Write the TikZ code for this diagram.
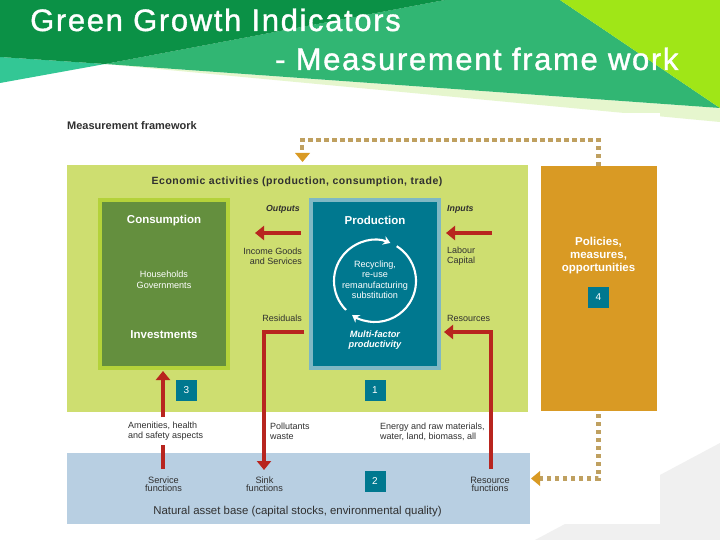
\documentclass[tikz,border=0pt]{standalone}
\usepackage{fontspec}
\setmainfont{Liberation Sans}
\usetikzlibrary{arrows.meta}
\definecolor{dkgreen}{HTML}{0B9146}
\definecolor{midgreen}{HTML}{31B673}
\definecolor{teal0}{HTML}{33C795}
\definecolor{lime0}{HTML}{A0E617}
\definecolor{palegreen}{HTML}{E6F6CE}
\definecolor{panel}{HTML}{CEDE70}
\definecolor{consf}{HTML}{648F3E}
\definecolor{consb}{HTML}{B4D23A}
\definecolor{prodf}{HTML}{00788F}
\definecolor{prodb}{HTML}{7FB8C4}
\definecolor{gold0}{HTML}{D99A24}
\definecolor{dotc}{HTML}{BFA060}
\definecolor{blue0}{HTML}{B8CFE2}
\definecolor{red0}{HTML}{B8251F}
\definecolor{gray0}{HTML}{F0F0F0}
\definecolor{ink}{HTML}{303030}
\tikzset{
 x=1pt,y=-1pt,
 lab/.style={font=\fontsize{9}{10.2}\selectfont,text=ink,inner sep=0pt},
 itlab/.style={font=\bfseries\itshape\fontsize{8.8}{9}\selectfont,text=ink,inner sep=0pt},
 tightlab/.style={font=\fontsize{9.2}{8}\selectfont,text=ink,inner sep=0pt,align=center},
 smallw/.style={font=\fontsize{9.1}{10.5}\selectfont,text=white,inner sep=0pt,align=center},
 whead/.style={font=\bfseries\fontsize{11.5}{13}\selectfont,text=white,inner sep=0pt,align=center},
 numbox/.style={fill=prodf,text=white,minimum width=21pt,minimum height=21pt,inner sep=0pt,font=\fontsize{10}{10}\selectfont},
 redarrow/.style={draw=red0,line width=4.4pt,-{Triangle[length=9pt,width=14pt]}},
 redline/.style={draw=red0,line width=4.4pt},
 dotline/.style={draw=dotc,line width=4.2pt,dash pattern=on 4.2pt off 3.8pt},
 ring/.style={draw=white,line width=2.1pt,-{Stealth[length=7pt,width=9pt]}},
 zone/.style={inner sep=0pt,anchor=north west},
 title/.style={font=\fontsize{31}{32}\selectfont\addfontfeatures{LetterSpace=5.3,FakeBold=1.2},text=white,inner sep=0pt,anchor=base west},
}
\begin{document}
\begin{tikzpicture}
\useasboundingbox (0,0) rectangle (720,540);
\fill[white] (0,0) rectangle (720,540);
% grey background shape outside the figure
\fill[gray0] (660,475) -- (720,443) -- (720,540) -- (535,540) -- (565,524) -- (660,524) -- cycle;
% header
\fill[palegreen] (105,64) -- (720,108) -- (720,122) -- cycle;
\fill[teal0] (0,57) -- (105,64) -- (0,83) -- cycle;
\fill[midgreen] (105,64) -- (445,0) -- (560,0) -- (720,108) -- cycle;
\fill[lime0] (560,0) -- (720,0) -- (720,108) -- cycle;
\fill[dkgreen] (0,0) -- (445,0) -- (105,64) -- (0,57) -- cycle;
\fill[white] (62,113) rectangle (660,160);
\node[title] (t1) at (30,31) {Green Growth Indicators};
\node[title] (t2) at (275,70) {- Measurement frame work};
\node[font=\bfseries\fontsize{11}{12}\selectfont,text=ink,inner sep=0pt,anchor=west] (mf) at (67,126) {Measurement framework};
% panels
\node[zone,fill=panel,minimum width=461pt,minimum height=247pt] (eco) at (67,164.5) {};
\node[zone,fill=gold0,minimum width=116pt,minimum height=245pt] (pol) at (541,166) {};
\node[zone,fill=blue0,minimum width=463pt,minimum height=71pt] (nat) at (67,453) {};
\node[zone,fill=consf,draw=consb,line width=3.6pt,minimum width=128.4pt,minimum height=168.4pt] (con) at (98,198) {};
\node[zone,fill=prodf,draw=prodb,line width=3.6pt,minimum width=128.4pt,minimum height=168.4pt] (pro) at (309,198) {};
% panel texts
\node[font=\bfseries\fontsize{10.5}{12}\selectfont\addfontfeatures{LetterSpace=5},text=ink,inner sep=0pt] (ecot) at (297,182) {Economic activities (production, consumption, trade)};
\node[whead] (cont) at (164,221) {Consumption};
\node[smallw] (cons) at (164,279.5) {Households\\Governments};
\node[whead] (inv) at (164,335) {Investments};
\node[whead] (prot) at (375,220.5) {Production};
\node[smallw] (rec) at (375,279.5) {Recycling,\\re-use\\remanufacturing\\substitution};
\node[font=\bfseries\itshape\fontsize{9.2}{10.5}\selectfont,text=white,inner sep=0pt,align=center] (mfp) at (375,340) {Multi-factor\\productivity};
\node[whead] (polt) at (598.5,255.5) {Policies,\\measures,\\opportunities};
\node[font=\fontsize{11.4}{12}\selectfont,text=ink,inner sep=0pt] (natt) at (297.5,512) {Natural asset base (capital stocks, environmental quality)};
% numbers
\node[numbox] (n3) at (186.5,390.5) {3};
\node[numbox] (n1) at (375,390.5) {1};
\node[numbox] (n4) at (598.5,297) {4};
\node[numbox] (n2) at (375,481.5) {2};
% flow labels
\node[itlab,anchor=east] (outl) at (300,209) {Outputs};
\node[lab,anchor=east,align=right] (igs) at (302,256) {Income Goods\\and Services};
\node[lab,anchor=east] (resi) at (302,318) {Residuals};
\node[itlab,anchor=west] (inl) at (447,209) {Inputs};
\node[lab,anchor=west,align=left] (lab) at (447,256) {Labour\\Capital};
\node[lab,anchor=west] (reso) at (447,318) {Resources};
\node[lab,anchor=west,align=left] (ame) at (128,431.5) {Amenities, health\\and safety aspects};
\node[lab,anchor=west,align=left] (pollu) at (270,431) {Pollutants\\waste};
\node[lab,anchor=west,align=left] (ene) at (380,431.5) {Energy and raw materials,\\water, land, biomass, all};
\node[tightlab] (sf) at (163.5,484) {Service\\functions};
\node[tightlab] (kf) at (264.5,484) {Sink\\functions};
\node[tightlab] (rf) at (490,484) {Resource\\functions};
% ring
\draw[ring] (375,281) ++(225:41pt) arc[start angle=225,end angle=68,radius=41pt];
\draw[ring] (375,281) ++(58:41pt) arc[start angle=58,end angle=-124,radius=41pt];
% red connectors
\coordinate (o0) at (301,233); \coordinate (o1) at (255,233);
\coordinate (i0) at (492,233); \coordinate (i1) at (446,233);
\coordinate (r0) at (304,332); \coordinate (r1) at (264,332); \coordinate (r2) at (264,470);
\coordinate (s0) at (491,469); \coordinate (s1) at (491,332); \coordinate (s2) at (444,332);
\coordinate (a0) at (163,469); \coordinate (a1) at (163,445); \coordinate (a2) at (163,417); \coordinate (a3) at (163,371);
\draw[redarrow] (o0) -- (o1);
\draw[redarrow] (i0) -- (i1);
\draw[redarrow] (r0) -- (r1) -- (r2);
\draw[redarrow] (s0) -- (s1) -- (s2);
\draw[redline] (a0) -- (a1);
\draw[redarrow] (a2) -- (a3);
% dotted connectors
\coordinate (d0) at (598.5,166); \coordinate (d1) at (598.5,140); \coordinate (d2) at (302,140); \coordinate (d3) at (302,151);
\coordinate (e0) at (598.5,414); \coordinate (e1) at (598.5,478.5); \coordinate (e2) at (539.5,478.5);
\draw[dotline] (d0) -- (d1) -- (d2) -- (d3);
\fill[gold0] (295,153) -- (310,153) -- (302.5,162) -- cycle;
\draw[dotline] (e0) -- (e1) -- (e2);
\fill[gold0] (540,471) -- (540,486) -- (531,478.5) -- cycle;
\end{tikzpicture}
\end{document}
